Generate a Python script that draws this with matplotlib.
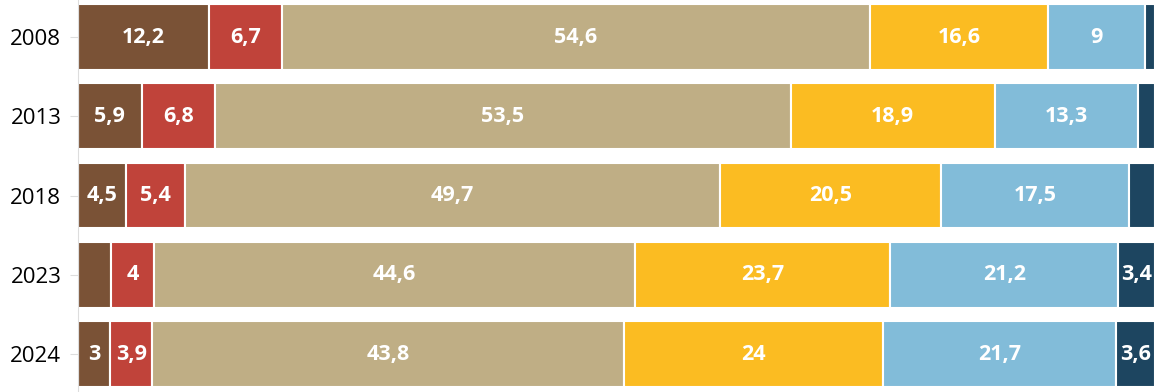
import numpy as np
import matplotlib.pyplot as plt

# years shown top to bottom
years = ["2008", "2013", "2018", "2023", "2024"]

# segment values per year (left to right)
seg1 = [12.2, 5.9, 4.5, 3.1, 3.0]
seg2 = [6.7, 6.8, 5.4, 4.0, 3.9]
seg3 = [54.6, 53.5, 49.7, 44.6, 43.8]
seg4 = [16.6, 18.9, 20.5, 23.7, 24.0]
seg5 = [9.0, 13.3, 17.5, 21.2, 21.7]
seg6 = [0.9, 1.6, 2.4, 3.4, 3.6]

# printed labels (empty where the chart shows none)
lab1 = ["12,2", "5,9", "4,5", "", "3"]
lab2 = ["6,7", "6,8", "5,4", "4", "3,9"]
lab3 = ["54,6", "53,5", "49,7", "44,6", "43,8"]
lab4 = ["16,6", "18,9", "20,5", "23,7", "24"]
lab5 = ["9", "13,3", "17,5", "21,2", "21,7"]
lab6 = ["", "", "", "3,4", "3,6"]

colors = ["#7a5236", "#c0433a", "#bfae85", "#fbbc22", "#82bcd9", "#1d4560"]

segments = [seg1, seg2, seg3, seg4, seg5, seg6]
labels = [lab1, lab2, lab3, lab4, lab5, lab6]

plt.rcParams["font.family"] = ["Open Sans", "DejaVu Sans"]

fig = plt.figure(figsize=(11.59, 3.92), dpi=100)
ax = fig.add_axes([78 / 1159, 0.0, (1155 - 78) / 1159, 1.0])

y = np.arange(len(years))
left = np.zeros(len(years))
for vals, labs, col in zip(segments, labels, colors):
    vals = np.array(vals)
    ax.barh(y, vals, left=left, height=0.83, color=col,
            edgecolor="white", linewidth=1.5)
    for yi, v, l, t in zip(y, vals, left, labs):
        if t:
            ax.text(l + v / 2, yi, t, ha="center", va="center",
                    color="white", fontsize=15.5, fontweight="bold")
    left = left + vals

ax.set_xlim(0, 100)
ax.set_ylim(4.479, -0.467)
ax.set_yticks(y)
ax.set_yticklabels(years, fontsize=16)
ax.set_xticks([])
for s in ["top", "right", "bottom"]:
    ax.spines[s].set_visible(False)
ax.spines["left"].set_color("#dddddd")
ax.tick_params(axis="y", length=6, color="#dddddd", pad=6)

fig.savefig("out.png", dpi=100)
